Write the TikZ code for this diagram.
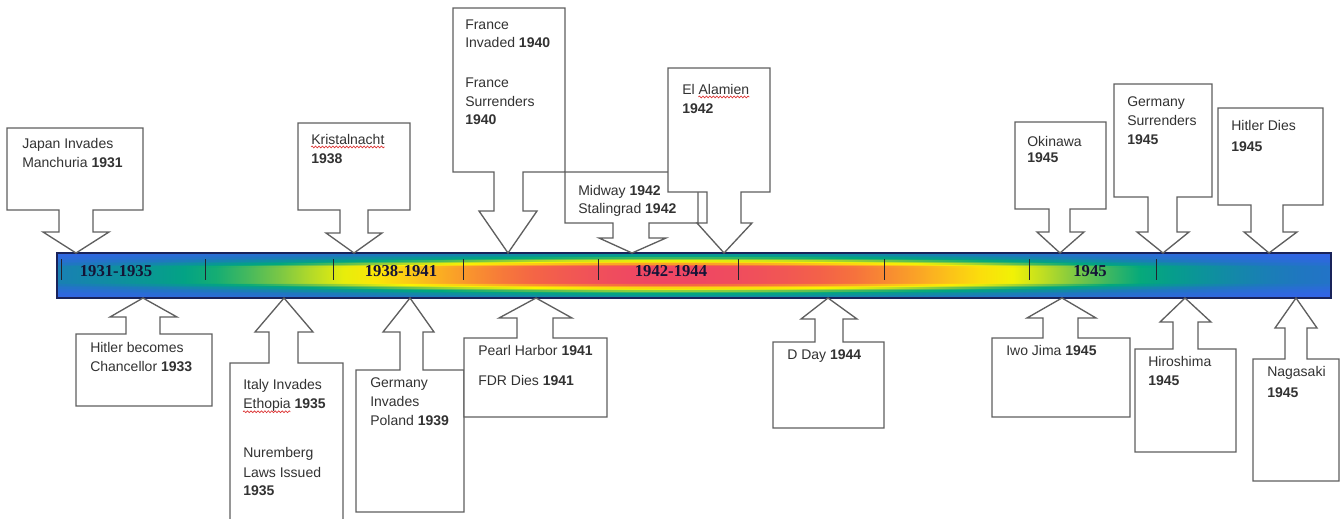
\documentclass[tikz,border=0pt]{standalone}
\usepackage{fontspec}
\setmainfont{Liberation Sans}
\newfontfamily\timesf{Liberation Serif}
\usetikzlibrary{decorations.pathmorphing}
\definecolor{lineg}{RGB}{95,95,95}
\definecolor{txtg}{RGB}{50,50,50}
\definecolor{barnavy}{RGB}{20,20,55}
\definecolor{baredge}{RGB}{25,35,90}
\definecolor{tickc}{RGB}{35,35,45}
\definecolor{spell}{RGB}{220,50,50}
% colour map of the bar
\definecolor{cm0}{RGB}{55,95,240}
\definecolor{cm1}{RGB}{30,120,190}
\definecolor{cm2}{RGB}{10,150,150}
\definecolor{cm3}{RGB}{0,168,125}
\definecolor{cm4}{RGB}{110,195,75}
\definecolor{cm5}{RGB}{200,225,30}
\definecolor{cm6}{RGB}{250,245,0}
\definecolor{cm7}{RGB}{252,205,20}
\definecolor{cm8}{RGB}{250,160,40}
\definecolor{cm9}{RGB}{245,105,65}
\definecolor{cm10}{RGB}{238,70,100}
\def\cmpos{{0,0.15,0.25,0.32,0.42,0.50,0.56,0.65,0.74,0.86,1.0}}
\pgfmathdeclarefunction{fxprof}{1}{%
  \pgfmathparse{0.04+0.96*exp(-((abs(#1-0.47)+0.0001)/(#1<0.47?0.315:0.347))^(#1<0.47?1.67:2.13))}}
\newcommand\setcmcolor[2]{%
  \pgfmathsetmacro\cmv{max(0,min(0.9999,#2))}%
  \pgfmathtruncatemacro\segidx{(\cmv>0.15)+(\cmv>0.25)+(\cmv>0.32)+(\cmv>0.42)+(\cmv>0.5)+(\cmv>0.56)+(\cmv>0.65)+(\cmv>0.74)+(\cmv>0.86)}%
  \pgfmathtruncatemacro\segnext{\segidx+1}%
  \pgfmathsetmacro\cmlo{\cmpos[\segidx]}%
  \pgfmathsetmacro\cmhi{\cmpos[\segnext]}%
  \pgfmathsetmacro\mixpct{max(0,min(100,100*(\cmhi-\cmv)/(\cmhi-\cmlo)))}%
  \colorlet{#1}{cm\segidx!\mixpct!cm\segnext}%
}
\newcount\jj
\newcommand\makestrip[1]{%
  \pgfmathsetmacro\gval{0.22+0.78*(min(1,((#1+0.5)/30)/0.32))^1.6}%
  \def\shspec{}%
  \jj=0
  \loop
    \pgfmathsetmacro\xn{\the\jj/40}%
    \pgfmathsetmacro\vval{fxprof(\xn)*\gval}%
    \setcmcolor{st#1c\the\jj}{\vval}%
    \pgfmathsetmacro\spos{25+50*\xn}%
    \ifnum\jj=0
      \edef\shspec{color(0bp)=(st#1c0); color(\spos bp)=(st#1c0)}%
    \else
      \edef\shspec{\shspec; color(\spos bp)=(st#1c\the\jj)}%
    \fi
    \advance\jj by 1
  \ifnum\jj<41 \repeat
  \edef\shspec{\shspec; color(100bp)=(st#1c40)}%
  \edef\tmpdecl{\noexpand\pgfdeclarehorizontalshading{strip#1}{100bp}{\shspec}}\tmpdecl
}
\makestrip{0}\makestrip{1}\makestrip{2}\makestrip{3}\makestrip{4}
\makestrip{5}\makestrip{6}\makestrip{7}\makestrip{8}\makestrip{9}
\makestrip{10}\makestrip{11}\makestrip{12}\makestrip{13}\makestrip{14}
\tikzset{
  co/.style={draw=lineg, fill=white, line width=1pt, line join=miter},
  lbl/.style={anchor=base west, inner sep=0pt, text=txtg, font=\fontsize{10.5}{12}\selectfont},
  barlbl/.style={anchor=base, inner sep=0pt, text=barnavy, font=\timesf\bfseries\fontsize{12.5}{14}\selectfont},
  squig/.style={draw=spell, line width=0.5pt, decorate, decoration={snake, amplitude=0.7pt, segment length=2.6pt}}
}
\newcommand\cotext[4]{\node[lbl] (#1) at (#2,#3) {#4};}
\begin{document}
\begin{tikzpicture}
\useasboundingbox (0,0) rectangle (1005.75pt,-388.5pt);
\clip (0,0) rectangle (1005.75pt,-388.5pt);
\begin{scope}[x=0.75pt,y=-0.75pt]
% gradient bar, 30 horizontal strips
\foreach \k in {0,...,29}{
  \pgfmathtruncatemacro\sidx{min(\k,29-\k)}
  \fill[shading=strip\sidx] (57,{253+\k*1.5}) rectangle (1331,{253+(\k+1)*1.5+0.5});
}
\draw[baredge, line width=0.8pt] (57,253) rectangle (1331,298);
\foreach \t in {61,205,333,463,598,738,884,1029,1156}
  \draw[tickc, line width=0.6pt] (\t,259) -- (\t,280);
\node[barlbl] (bl1) at (116,276) {1931-1935};
\node[barlbl] (bl2) at (401,276) {1938-1941};
\node[barlbl] (bl3) at (671,276) {1942-1944};
\node[barlbl] (bl4) at (1090,276) {1945};

% ---- callouts above the bar (pointing down, tip y=253)
\draw[co] (7,128) -- (143,128) -- (143,210) -- (93,210) -- (93,232) -- (109,232) -- (76,253) -- (43,232) -- (59,232) -- (59,210) -- (7,210) -- cycle;
\draw[co] (298,123) -- (410,123) -- (410,210) -- (368,210) -- (368,233) -- (382,233) -- (354,253) -- (326,233) -- (340,233) -- (340,210) -- (298,210) -- cycle;
\draw[co] (453,8) -- (565,8) -- (565,172) -- (523,172) -- (523,211) -- (537,211) -- (508,253) -- (479,211) -- (494,211) -- (494,172) -- (453,172) -- cycle;
\draw[co] (565,172) -- (698,172) -- (698,223) -- (649,223) -- (649,238) -- (666,238) -- (632,253) -- (599,238) -- (613,238) -- (613,223) -- (565,223) -- cycle;
\draw[co] (668,68) -- (770,68) -- (770,192) -- (741,192) -- (741,223) -- (752,223) -- (724,253) -- (697,223) -- (707,223) -- (707,192) -- (668,192) -- cycle;
\draw[co] (1015,122) -- (1106,122) -- (1106,209) -- (1070,209) -- (1070,232) -- (1084,232) -- (1060,253) -- (1037,232) -- (1049,232) -- (1049,209) -- (1015,209) -- cycle;
\draw[co] (1114,84) -- (1212,84) -- (1212,197) -- (1177,197) -- (1177,232) -- (1189,232) -- (1163,253) -- (1137,232) -- (1148,232) -- (1148,197) -- (1114,197) -- cycle;
\draw[co] (1218,108) -- (1323,108) -- (1323,205) -- (1283,205) -- (1283,232) -- (1297,232) -- (1269,253) -- (1244,232) -- (1251,232) -- (1251,205) -- (1218,205) -- cycle;

% ---- callouts below the bar (pointing up, tip y=298)
\draw[co] (76,406) -- (76,334) -- (126,334) -- (126,317) -- (110,317) -- (143,298) -- (177,317) -- (160,317) -- (160,334) -- (212,334) -- (212,406) -- cycle;
\draw[co] (230,530) -- (230,363) -- (269,363) -- (269,332) -- (255,332) -- (284,298) -- (313,332) -- (298,332) -- (298,363) -- (343,363) -- (343,530);
\draw[co] (356,512) -- (356,370) -- (400,370) -- (400,332) -- (383,332) -- (410,298) -- (434,332) -- (423,332) -- (423,370) -- (464,370) -- (464,512) -- cycle;
\draw[co] (464,417) -- (464,338) -- (517,338) -- (517,318) -- (499,318) -- (536,298) -- (572,318) -- (553,318) -- (553,338) -- (607,338) -- (607,417) -- cycle;
\draw[co] (773,428) -- (773,342) -- (815,342) -- (815,319) -- (801,319) -- (828,298) -- (857,319) -- (843,319) -- (843,342) -- (884,342) -- (884,428) -- cycle;
\draw[co] (992,417) -- (992,338) -- (1043,338) -- (1043,318) -- (1027,318) -- (1062,298) -- (1096,318) -- (1078,318) -- (1078,338) -- (1130,338) -- (1130,417) -- cycle;
\draw[co] (1135,452) -- (1135,349) -- (1173,349) -- (1173,322) -- (1160,322) -- (1185,298) -- (1211,322) -- (1198,322) -- (1198,349) -- (1236,349) -- (1236,452) -- cycle;
\draw[co] (1253,481) -- (1253,359) -- (1285,359) -- (1285,328) -- (1275,328) -- (1296,298) -- (1317,328) -- (1307,328) -- (1307,359) -- (1339,359) -- (1339,481) -- cycle;

% ---- texts above
\cotext{ja1}{22}{148}{Japan Invades}
\cotext{ja2}{22}{167}{Manchuria \textbf{1931}}
\cotext{kr1}{311}{144}{Kristalnacht}
\cotext{kr2}{311}{163}{\textbf{1938}}
\cotext{fr1}{465}{29}{France}
\cotext{fr2}{465}{47}{Invaded \textbf{1940}}
\cotext{fr3}{465}{87}{France}
\cotext{fr4}{465}{106}{Surrenders}
\cotext{fr5}{465}{124}{\textbf{1940}}
\cotext{mw1}{578}{195}{Midway \textbf{1942}}
\cotext{mw2}{578}{213}{Stalingrad \textbf{1942}}
\cotext{ea1}{682}{94}{El Alamien}
\cotext{ea2}{682}{113}{\textbf{1942}}
\cotext{ok1}{1027}{146}{Okinawa}
\cotext{ok2}{1027}{162}{\textbf{1945}}
\cotext{gs1}{1127}{106}{Germany}
\cotext{gs2}{1127}{125}{Surrenders}
\cotext{gs3}{1127}{144}{\textbf{1945}}
\cotext{hd1}{1231}{130}{Hitler Dies}
\cotext{hd2}{1231}{151}{\textbf{1945}}
% ---- texts below
\cotext{hc1}{90}{352}{Hitler becomes}
\cotext{hc2}{90}{371}{Chancellor \textbf{1933}}
\cotext{it1}{243}{389}{Italy Invades}
\cotext{it2}{243}{408}{Ethopia \textbf{1935}}
\cotext{it3}{243}{457}{Nuremberg}
\cotext{it4}{243}{477}{Laws Issued}
\cotext{it5}{243}{495}{\textbf{1935}}
\cotext{gp1}{370}{387}{Germany}
\cotext{gp2}{370}{406}{Invades}
\cotext{gp3}{370}{425}{Poland \textbf{1939}}
\cotext{ph1}{478}{355}{Pearl Harbor \textbf{1941}}
\cotext{ph2}{478}{385}{FDR Dies \textbf{1941}}
\cotext{dd1}{787}{359}{D Day \textbf{1944}}
\cotext{iw1}{1006}{355}{Iwo Jima \textbf{1945}}
\cotext{hi1}{1148}{366}{Hiroshima}
\cotext{hi2}{1148}{385}{\textbf{1945}}
\cotext{na1}{1267}{376}{Nagasaki}
\cotext{na2}{1267}{397}{\textbf{1945}}
% ---- spell-check marks
\draw[squig] ([yshift=-2.2pt]kr1.base west) -- ([yshift=-2.2pt]kr1.base east);
\draw[squig] ([xshift=12.3pt,yshift=-2.2pt]ea1.base west) -- ([yshift=-2.2pt]ea1.base east);
\draw[squig] ([yshift=-2.8pt]it2.base west) -- ++(35.6pt,0);
\end{scope}
\end{tikzpicture}
\end{document}
